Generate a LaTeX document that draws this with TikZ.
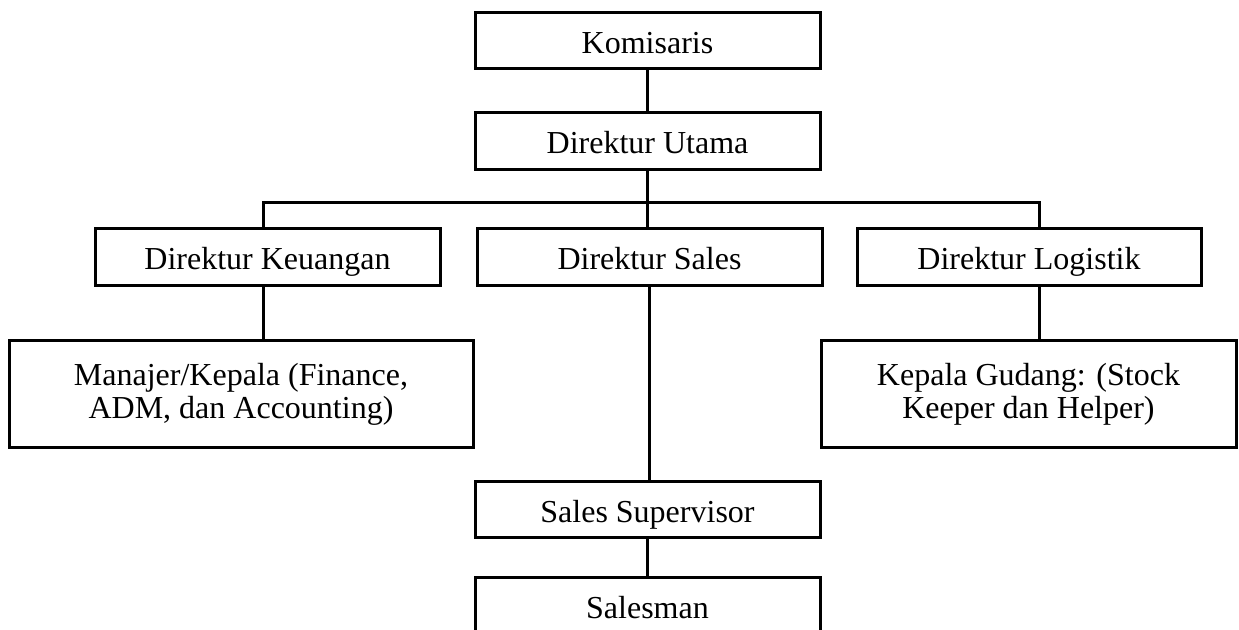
\documentclass[tikz,border=0pt]{standalone}
\usepackage{fontspec}
\setmainfont{Liberation Serif}
\begin{document}
\begin{tikzpicture}[x=0.5pt,y=-0.5pt,
  box/.style={draw=black,line width=1.5pt,fill=white,inner sep=0pt,align=center,
    font=\fontsize{16}{16.5}\selectfont},
  onel/.style={box,text height=12.5pt,text depth=0pt},
  conn/.style={draw=black,line width=1.5pt}]
\useasboundingbox[fill=white] (0,0) rectangle (1239,630);
\node[onel,minimum width=172.5pt,minimum height=28pt] (kom) at (647.5,41) {Komisaris};
\node[onel,minimum width=172.5pt,minimum height=28.5pt] (du) at (647.5,141.5) {Direktur Utama};
\node[onel,minimum width=172.5pt,minimum height=28.5pt] (keu) at (267.5,257.5) {Direktur Keuangan};
\node[onel,minimum width=172.5pt,minimum height=28.5pt] (sales) at (649.5,257.5) {Direktur Sales};
\node[onel,minimum width=172pt,minimum height=28.5pt] (log) at (1029,257.5) {Direktur Logistik};
\node[box,minimum width=232pt,minimum height=53.5pt] (man) at (241,394.5) {Manajer/Kepala (Finance,\\ADM, dan Accounting)};
\node[box,minimum width=207.5pt,minimum height=53.5pt] (kep) at (1028.5,394.5) {Kepala Gudang: (Stock\\Keeper dan Helper)};
\node[onel,minimum width=172.5pt,minimum height=28pt] (sup) at (647.5,510) {Sales Supervisor};
\node[onel,minimum width=172.5pt,minimum height=28pt] (slm) at (647.5,606) {Salesman};
\coordinate (busL) at (263,203);
\coordinate (busR) at (1039,203);
\draw[conn] (kom.south) -- (du.north);
\draw[conn] (du.south) -- (du.south |- sales.north);
\draw[conn,line join=miter] (busL |- keu.north) -- (busL) -- (busR) -- (busR |- log.north);
\draw[conn] (keu.south -| busL) -- (busL |- man.north);
\draw[conn] (sales.south) -- (sales.south |- sup.north);
\draw[conn] (log.south -| busR) -- (busR |- kep.north);
\draw[conn] (sup.south) -- (slm.north);
\end{tikzpicture}
\end{document}
